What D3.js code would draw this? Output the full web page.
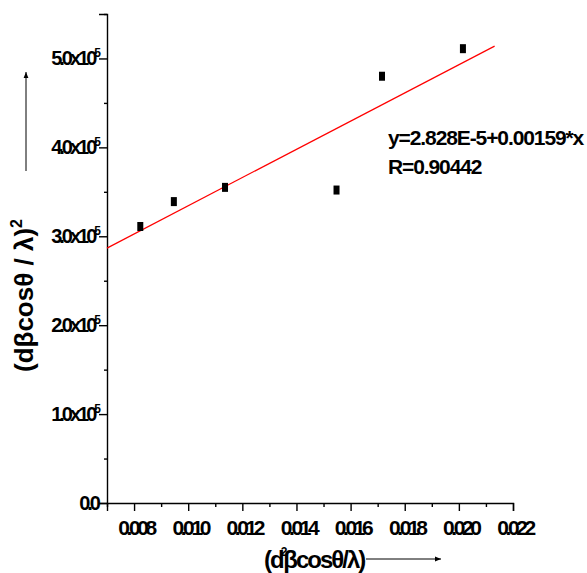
<!DOCTYPE html>
<html>
<head>
    <title>Williamson-Hall style plot</title>
    <script src="https://cdnjs.cloudflare.com/ajax/libs/d3/7.8.5/d3.min.js"></script>
    <style>
        body {
            margin: 0;
            background-color: white;
        }
        svg text {
            font-family: "Liberation Sans", Arial, sans-serif;
            font-weight: 700;
            fill: black;
        }
    </style>
</head>
<body>
    <div id="chart"></div>

    <script>
        // Measured points
        const xValues = [0.00823, 0.00947, 0.01136, 0.01548, 0.01716, 0.02015];
        const yValues = [3.11e-5, 3.39e-5, 3.55e-5, 3.52e-5, 4.80e-5, 5.11e-5];

        // Linear fit (end points of the drawn line)
        const fitX = [0.007, 0.02132];
        const fitY = [2.867e-5, 5.139e-5];
        const fitText = ['y=2.828E-5+0.00159*x', 'R=0.90442'];

        // Ticks
        const xMajorTicks = [0.008, 0.010, 0.012, 0.014, 0.016, 0.018, 0.020, 0.022];
        const xMinorTicks = [0.007, 0.009, 0.011, 0.013, 0.015, 0.017, 0.019, 0.021];
        const xTickLabels = ['0.008', '0.010', '0.012', '0.014', '0.016', '0.018', '0.020', '0.022'];
        const yMajorTicks = [0, 1e-5, 2e-5, 3e-5, 4e-5, 5e-5];
        const yMinorTicks = [0.5e-5, 1.5e-5, 2.5e-5, 3.5e-5, 4.5e-5, 5.5e-5];
        const yTickLabels = ['0.0', '1.0x10', '2.0x10', '3.0x10', '4.0x10', '5.0x10'];

        const width = 587, height = 573;
        const margin = {top: 14, right: 74, bottom: 70, left: 107};
        const innerW = 513 - margin.left;
        const innerH = 503 - margin.top;

        const svg = d3.select('#chart')
            .append('svg')
                .attr('width', width)
                .attr('height', height);

        const g = svg.append('g')
            .attr('transform', `translate(${margin.left},${margin.top})`);

        const x = d3.scaleLinear()
            .domain([0.007, 0.022])
            .range([0, innerW]);

        const y = d3.scaleLinear()
            .domain([0, 5.5e-5])
            .range([innerH, 0]);

        // X axis: major + minor ticks
        g.append('g')
            .attr('transform', `translate(0,${innerH})`)
            .call(d3.axisBottom(x).tickValues(xMajorTicks).tickSize(8).tickFormat(''));
        g.append('g')
            .attr('transform', `translate(0,${innerH})`)
            .call(d3.axisBottom(x).tickValues(xMinorTicks).tickSize(4).tickFormat(''))
            .select('.domain').remove();

        // Y axis: major + minor ticks
        g.append('g')
            .call(d3.axisLeft(y).tickValues(yMajorTicks).tickSize(8).tickFormat(''));
        g.append('g')
            .call(d3.axisLeft(y).tickValues(yMinorTicks).tickSize(3).tickFormat(''))
            .select('.domain').remove();

        g.selectAll('.domain, .tick line')
            .attr('stroke', 'black')
            .attr('stroke-width', 1.4);
        g.selectAll('.domain').attr('d', function () {
            return d3.select(this).attr('d').replace(/V6|H-6|V-6|H6/g, '');
        });

        // X tick labels
        g.selectAll('.x-label')
            .data(xMajorTicks)
            .enter().append('text')
                .attr('class', 'x-label')
                .attr('x', d => x(d) + 2)
                .attr('y', innerH + 32)
                .attr('text-anchor', 'middle')
                .style('font-size', '21px')
                .style('font-weight', 'bold')
                .style('letter-spacing', '-3.4px')
                .text((d, i) => xTickLabels[i]);

        // Y tick labels with x10^-5
        const yLab = g.selectAll('.y-label')
            .data(yMajorTicks)
            .enter().append('text')
                .attr('class', 'y-label')
                .attr('x', -9)
                .attr('y', d => y(d) + 7)
                .attr('text-anchor', 'end')
                .style('font-size', '20px')
                .style('font-weight', 'bold')
                .style('letter-spacing', '-3px');
        yLab.append('tspan').text((d, i) => yTickLabels[i]);
        yLab.filter(d => d !== 0)
            .append('tspan')
                .attr('dy', -8)
                .attr('dx', -1)
                .style('font-size', '12px')
                .style('letter-spacing', '-3px')
                .text('-5');

        // Fit line
        g.append('line')
            .attr('x1', x(fitX[0]))
            .attr('y1', y(fitY[0]))
            .attr('x2', x(fitX[1]))
            .attr('y2', y(fitY[1]))
            .attr('stroke', '#ff0000')
            .attr('stroke-width', 1.2);

        // Points
        const points = xValues.map((v, i) => ({x: v, y: yValues[i]}));
        g.selectAll('.pt')
            .data(points)
            .enter().append('rect')
                .attr('class', 'pt')
                .attr('x', d => x(d.x) - 3)
                .attr('y', d => y(d.y) - 4.5)
                .attr('width', 6)
                .attr('height', 9)
                .attr('fill', 'black');

        // Fit annotation
        svg.selectAll('.fit-text')
            .data(fitText)
            .enter().append('text')
                .attr('class', 'fit-text')
                .attr('x', 388)
                .attr('y', (d, i) => 145 + i * 29)
                .style('font-size', '21px')
                .style('font-weight', 'bold')
                .style('letter-spacing', '-1.1px')
                .text(d => d);

        // Y axis title
        const yTitle = svg.append('text')
            .attr('transform', 'translate(33,372) rotate(-90)')
            .style('font-size', '26px');
        yTitle.append('tspan').text('(dβcosθ / λ)');
        yTitle.append('tspan')
            .attr('dy', -11)
            .style('font-size', '16px')
            .text('2');

        // Arrow marker
        svg.append('defs').append('marker')
            .attr('id', 'arrow')
            .attr('viewBox', '0 0 10 10')
            .attr('refX', 10)
            .attr('refY', 5)
            .attr('markerWidth', 6)
            .attr('markerHeight', 6)
            .attr('markerUnits', 'userSpaceOnUse')
            .attr('orient', 'auto')
            .append('path')
                .attr('d', 'M0,1 L10,5 L0,9 Z')
                .attr('fill', 'black');

        svg.append('line')
            .attr('x1', 26).attr('y1', 171)
            .attr('x2', 26).attr('y2', 72)
            .attr('stroke', 'black')
            .attr('stroke-width', 1)
            .attr('marker-end', 'url(#arrow)');

        // X axis title
        const xTitle = svg.append('text')
            .attr('x', 264)
            .attr('y', 568)
            .style('font-size', '24px')
            .style('font-weight', 'bold')
            .style('letter-spacing', '-2px');
        xTitle.append('tspan').text('(d');
        xTitle.append('tspan')
            .attr('dy', -12)
            .attr('dx', -2)
            .style('font-size', '12px')
            .style('letter-spacing', '0px')
            .text('2');
        xTitle.append('tspan')
            .attr('dy', 12)
            .attr('dx', -4)
            .text('βcosθ/λ)');

        svg.append('line')
            .attr('x1', 366).attr('y1', 559)
            .attr('x2', 441).attr('y2', 559)
            .attr('stroke', 'black')
            .attr('stroke-width', 1)
            .attr('marker-end', 'url(#arrow)');
    </script>
</body>
</html>
